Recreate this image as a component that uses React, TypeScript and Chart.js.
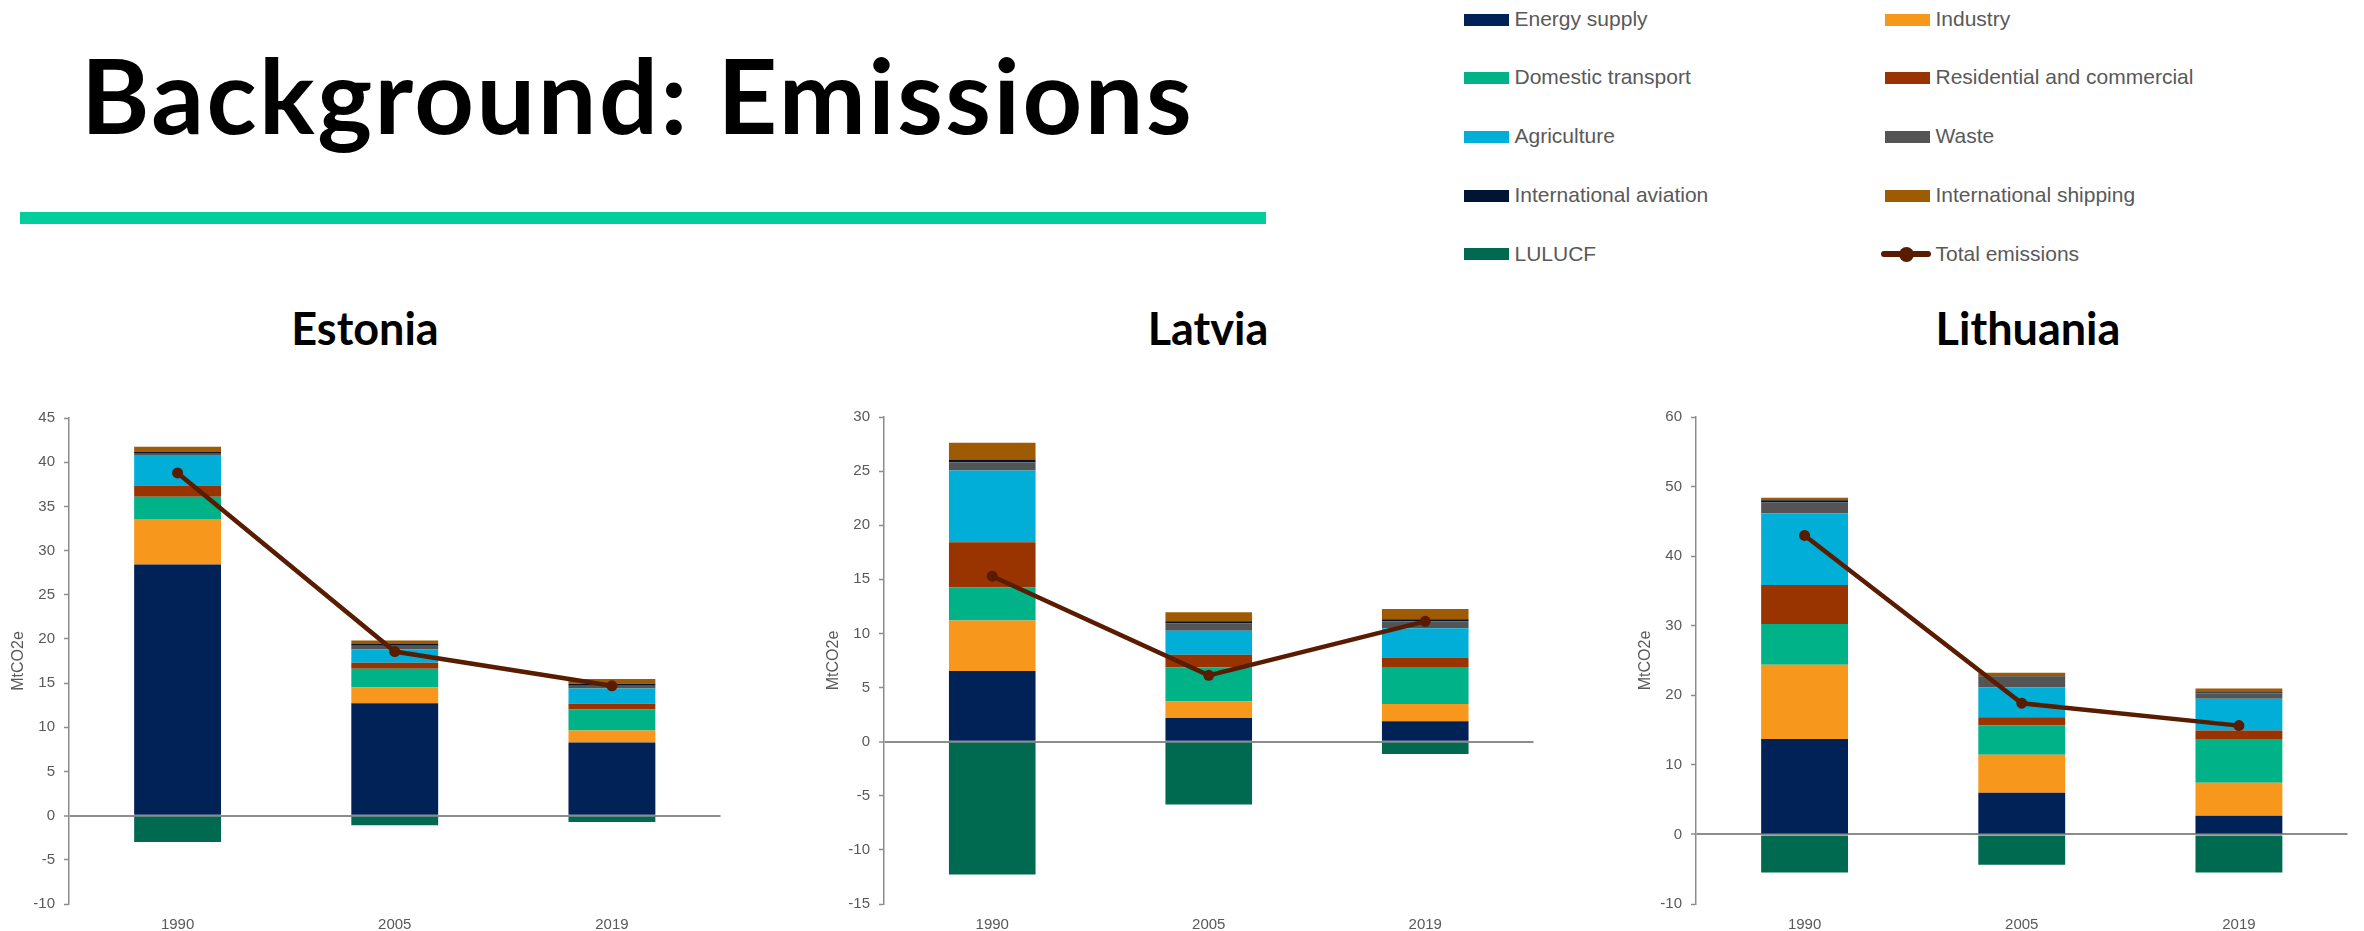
import React, { useEffect, useRef } from 'react';
import { Chart, registerables } from 'chart.js';

Chart.register(...registerables);

// ---------- data ----------
const years = ['1990', '2005', '2019'];

const sectorNames = [
  'Energy supply',
  'Industry',
  'Domestic transport',
  'Residential and commercial',
  'Agriculture',
  'Waste',
  'International aviation',
  'International shipping',
  'LULUCF',
];
const totalName = 'Total emissions';

// Estonia (MtCO2e)
const eeEnergySupply = [28.43, 12.73, 8.27];
const eeIndustry = [5.14, 1.77, 1.36];
const eeTransport = [2.52, 2.11, 2.42];
const eeResidential = [1.28, 0.68, 0.6];
const eeAgriculture = [3.37, 1.51, 1.73];
const eeWaste = [0.3, 0.42, 0.31];
const eeAviation = [0.15, 0.19, 0.23];
const eeShipping = [0.55, 0.41, 0.53];
const eeLulucf = [-2.97, -1.09, -0.71];
const eeTotal = [38.78, 18.57, 14.69];

// Latvia (MtCO2e)
const lvEnergySupply = [6.54, 2.19, 1.88];
const lvIndustry = [4.65, 1.51, 1.6];
const lvTransport = [3.05, 3.17, 3.36];
const lvResidential = [4.19, 1.17, 0.93];
const lvAgriculture = [6.63, 2.22, 2.71];
const lvWaste = [0.77, 0.65, 0.64];
const lvAviation = [0.25, 0.21, 0.19];
const lvShipping = [1.54, 0.84, 0.96];
const lvLulucf = [-12.27, -5.8, -1.14];
const lvTotal = [15.29, 6.13, 11.12];

// Lithuania (MtCO2e)
const ltEnergySupply = [13.73, 6.0, 2.69];
const ltIndustry = [10.66, 5.47, 4.75];
const ltTransport = [5.86, 4.17, 6.29];
const ltResidential = [5.61, 1.21, 1.2];
const ltAgriculture = [10.32, 4.27, 4.56];
const ltWaste = [1.54, 1.58, 0.82];
const ltAviation = [0.33, 0.15, 0.14];
const ltShipping = [0.34, 0.38, 0.52];
const ltLulucf = [-5.47, -4.37, -5.47];
const ltTotal = [42.97, 18.86, 15.64];

// y-axis [min, max, step]
const eeTicks = [-10, 45, 5];
const lvTicks = [-15, 30, 5];
const ltTicks = [-10, 60, 10];

// ---------- styles ----------
const sectorColors = [
  '#002257',
  '#F7981D',
  '#00B287',
  '#993300',
  '#00AED8',
  '#545454',
  '#001533',
  '#9E5B03',
  '#006A51',
];
const totalColor = '#5A1C00';
const axisGray = '#8C8C8C';
const textGray = '#595959';
const FONT = "'Liberation Sans', Arial, sans-serif";
const TITLE_FONT = "Lato, 'Open Sans', sans-serif";

Chart.defaults.font.family = FONT;

type Panel = {
  name: string;
  sectors: number[][];
  total: number[];
  ticks: number[];
  left: number;
  width: number;
  padTop: number;
  titleX: number;
};

const panels: Panel[] = [
  {
    name: 'Estonia',
    sectors: [eeEnergySupply, eeIndustry, eeTransport, eeResidential, eeAgriculture, eeWaste, eeAviation, eeShipping, eeLulucf],
    total: eeTotal,
    ticks: eeTicks,
    left: 9,
    width: 717,
    padTop: 28,
    titleX: 365,
  },
  {
    name: 'Latvia',
    sectors: [lvEnergySupply, lvIndustry, lvTransport, lvResidential, lvAgriculture, lvWaste, lvAviation, lvShipping, lvLulucf],
    total: lvTotal,
    ticks: lvTicks,
    left: 824,
    width: 715,
    padTop: 27,
    titleX: 1208,
  },
  {
    name: 'Lithuania',
    sectors: [ltEnergySupply, ltIndustry, ltTransport, ltResidential, ltAgriculture, ltWaste, ltAviation, ltShipping, ltLulucf],
    total: ltTotal,
    ticks: ltTicks,
    left: 1636,
    width: 717,
    padTop: 27,
    titleX: 2028,
  },
];

const CANVAS_TOP = 390;
const CANVAS_H = 541;

function CountryChart({ p }: { p: Panel }) {
  const ref = useRef<HTMLCanvasElement | null>(null);
  useEffect(() => {
    if (!ref.current) return;
    const datasets: any[] = [
      {
        type: 'line',
        label: totalName,
        data: p.total,
        borderColor: totalColor,
        backgroundColor: totalColor,
        borderWidth: 4.5,
        pointRadius: 5.5,
        pointHoverRadius: 5.5,
        pointBackgroundColor: totalColor,
        pointBorderWidth: 0,
        tension: 0,
        order: 0,
        stack: 'total',
      },
      ...p.sectors.map((d, i) => ({
        type: 'bar',
        label: sectorNames[i],
        data: d,
        backgroundColor: sectorColors[i],
        borderWidth: 0,
        order: 1,
        stack: 'sectors',
        categoryPercentage: 1,
        barPercentage: 0.4,
      })),
    ];
    const chart = new Chart(ref.current, {
      type: 'bar',
      data: { labels: years, datasets },
      options: {
        animation: false,
        responsive: false,
        devicePixelRatio: 1,
        layout: { padding: { left: 0, right: 0, top: p.padTop, bottom: 0 } },
        plugins: { legend: { display: false }, tooltip: { enabled: false }, title: { display: false } },
        scales: {
          x: {
            stacked: true,
            offset: true,
            grid: { display: false, drawTicks: false },
            border: { display: false },
            ticks: { color: textGray, font: { size: 15 }, padding: 12 },
            afterFit: (s: any) => {
              s.height = 27;
            },
          },
          y: {
            stacked: true,
            min: p.ticks[0],
            max: p.ticks[1],
            z: 1,
            ticks: { stepSize: p.ticks[2], color: textGray, font: { size: 15 }, padding: 9 },
            grid: {
              color: (c: any) => (c.tick && c.tick.value === 0 ? axisGray : 'rgba(0,0,0,0)'),
              lineWidth: (c: any) => (c.tick && c.tick.value === 0 ? 2 : 1),
              tickColor: axisGray,
              tickWidth: 1.5,
              tickLength: 5,
              drawTicks: true,
            },
            border: { display: true, color: axisGray, width: 1.5 },
            title: { display: true, text: 'MtCO2e', color: textGray, font: { size: 16 }, padding: 0 },
            afterFit: (s: any) => {
              s.width = 60;
            },
          },
        },
      } as any,
    });
    return () => chart.destroy();
  }, [p]);
  return (
    <canvas
      ref={ref}
      width={p.width}
      height={CANVAS_H}
      style={{ position: 'absolute', left: p.left, top: CANVAS_TOP, width: p.width, height: CANVAS_H }}
    />
  );
}

const legendRowY = [19.5, 78.2, 136.9, 195.6, 254.3];
const legendSwatchX = [1463.5, 1884.5];
const legendTextX = [1514.5, 1935.5];

function Legend() {
  const items: React.ReactNode[] = [];
  sectorNames.forEach((name, i) => {
    const col = i % 2;
    const row = Math.floor(i / 2);
    const yc = legendRowY[row];
    items.push(
      <div
        key={'s' + i}
        style={{ position: 'absolute', left: legendSwatchX[col], top: yc - 6, width: 45, height: 12, background: sectorColors[i] }}
      />
    );
    items.push(
      <div
        key={'t' + i}
        style={{
          position: 'absolute',
          left: legendTextX[col],
          top: yc - 11.8,
          font: `21px ${FONT}`,
          lineHeight: '21px',
          color: textGray,
          whiteSpace: 'nowrap',
        }}
      >
        {name}
      </div>
    );
  });
  const yc = legendRowY[4];
  items.push(
    <div key="tl" style={{ position: 'absolute', left: 1881, top: yc - 3, width: 50, height: 6, background: totalColor, borderRadius: 3 }} />
  );
  items.push(
    <div key="td" style={{ position: 'absolute', left: 1898.5, top: yc - 7.5, width: 15, height: 15, background: totalColor, borderRadius: '50%' }} />
  );
  items.push(
    <div
      key="tt"
      style={{
        position: 'absolute',
        left: legendTextX[1],
        top: yc - 11.8,
        font: `21px ${FONT}`,
        lineHeight: '21px',
        color: textGray,
        whiteSpace: 'nowrap',
      }}
    >
      {totalName}
    </div>
  );
  return <>{items}</>;
}

export default function App() {
  return (
    <div
      style={{
        position: 'absolute',
        left: 0,
        top: 0,
        width: 2364,
        height: 931,
        background: '#ffffff',
        overflow: 'hidden',
      }}
    >
      <div
        style={{
          position: 'absolute',
          left: 81,
          top: 32,
          font: `700 104px ${TITLE_FONT}`,
          lineHeight: 1.2,
          letterSpacing: '2.5px',
          color: '#000',
          whiteSpace: 'nowrap',
        }}
      >
        Background: Emissions
      </div>
      <div style={{ position: 'absolute', left: 20, top: 212, width: 1246, height: 12, background: '#00CF9C' }} />
      <Legend />
      {panels.map((p) => (
        <div
          key={'h' + p.name}
          style={{
            position: 'absolute',
            left: p.titleX - 200,
            width: 400,
            top: 301,
            textAlign: 'center',
            font: `700 45px ${TITLE_FONT}`,
            lineHeight: 1.2,
            color: '#000',
            whiteSpace: 'nowrap',
          }}
        >
          {p.name}
        </div>
      ))}
      {panels.map((p) => (
        <CountryChart key={p.name} p={p} />
      ))}
    </div>
  );
}
